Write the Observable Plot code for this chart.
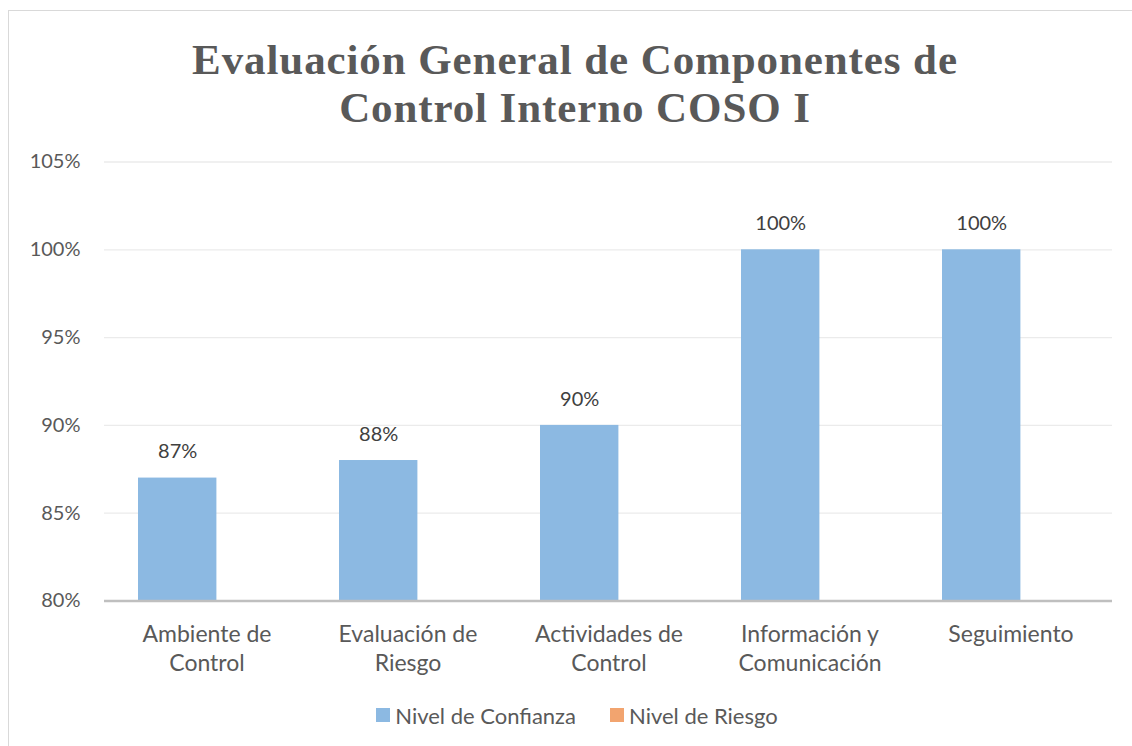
<!DOCTYPE html>
<html><head><meta charset="utf-8">
<script src="https://cdn.jsdelivr.net/npm/d3@7"></script>
<script src="https://cdn.jsdelivr.net/npm/@observablehq/plot@0.6"></script>
<style>
html,body{margin:0;padding:0;background:#fff;overflow:hidden;width:1132px;height:746px}
#frame{position:absolute;left:8px;top:10px;width:1140px;height:760px;border:1px solid #d9d9d9;box-sizing:border-box}
#title{font-family:"Liberation Serif","Times New Roman",serif;font-weight:bold;font-size:43px;line-height:48px;color:#595959;text-align:center;padding-top:24.5px;width:1132px;letter-spacing:0.9px}
#title .ln{height:48px;white-space:nowrap}
#chart svg{display:block}
#legend{width:1136px;height:47px;display:flex;justify-content:center;align-items:center;gap:34px;font-family:Lato,sans-serif;font-size:22px;color:#595959}
#legend .item{display:flex;align-items:center;gap:5px}
#legend .sw{width:14px;height:14px;display:inline-block}
</style>
</head><body>
<div id="frame">
  <div id="title"><div class="ln">Evaluación General de Componentes de</div><div class="ln">Control Interno COSO I</div></div>
  <div id="chart"></div>
  <div id="legend"></div>
</div>
<script>
const categories = ["Ambiente de\nControl", "Evaluación de\nRiesgo", "Actividades de\nControl", "Información y\nComunicación", "Seguimiento"];
const confianza = [0.87, 0.88, 0.90, 1.00, 1.00];
const yTicks = [0.80, 0.85, 0.90, 0.95, 1.00, 1.05];
const seriesNames = ["Nivel de Confianza", "Nivel de Riesgo"];
const seriesColors = ["#8CB9E2", "#F2A46F"];

const data = categories.map((c, i) => ({cat: c, value: confianza[i]}));
const yMin = yTicks[0];
const pct = d => Math.round(d * 100) + "%";

const plotWidth = 1122, mL = 95, mR = 1122 - (1112 - 9);
const step = (plotWidth - mL - mR) / categories.length;
const barW = 79, barOff = 32;

const plot = Plot.plot({
  width: plotWidth,
  height: 560,
  marginLeft: mL,
  marginRight: mR,
  marginTop: 29.5,
  marginBottom: 91.5,
  style: {fontFamily: "Lato, sans-serif", fontSize: "20px", color: "#595959", background: "transparent", overflow: "visible"},
  x: {domain: categories, padding: 0},
  y: {domain: [yTicks[0], yTicks[yTicks.length - 1]]},
  marks: [
    Plot.gridY(yTicks, {stroke: "#ebebeb", strokeOpacity: 1, strokeWidth: 1.3}),
    Plot.axisY(yTicks, {label: null, tickSize: 0, tickPadding: 24, tickFormat: pct, fontSize: 20, fill: "#595959"}),
    Plot.axisX({label: null, tickSize: 0, tickPadding: 21, lineHeight: 1.25, fontSize: 23, fill: "#595959"}),
    Plot.barY(data, {x: "cat", y1: yMin, y2: "value", fill: seriesColors[0], insetLeft: barOff, insetRight: step - barOff - barW}),
    Plot.ruleY([yMin], {stroke: "#bfbfbf", strokeWidth: 2.5}),
    Plot.text(data, {x: "cat", y: "value", text: d => pct(d.value), dx: barOff + barW / 2 - step / 2, dy: -26, lineAnchor: "middle", fill: "#404040", fontSize: 20})
  ]
});
document.getElementById("chart").appendChild(plot);

const legend = document.getElementById("legend");
seriesNames.forEach((n, i) => {
  const it = document.createElement("div");
  it.className = "item";
  const sw = document.createElement("span");
  sw.className = "sw";
  sw.style.background = seriesColors[i];
  const t = document.createElement("span");
  t.textContent = n;
  it.appendChild(sw); it.appendChild(t);
  legend.appendChild(it);
});
</script>
</body></html>
